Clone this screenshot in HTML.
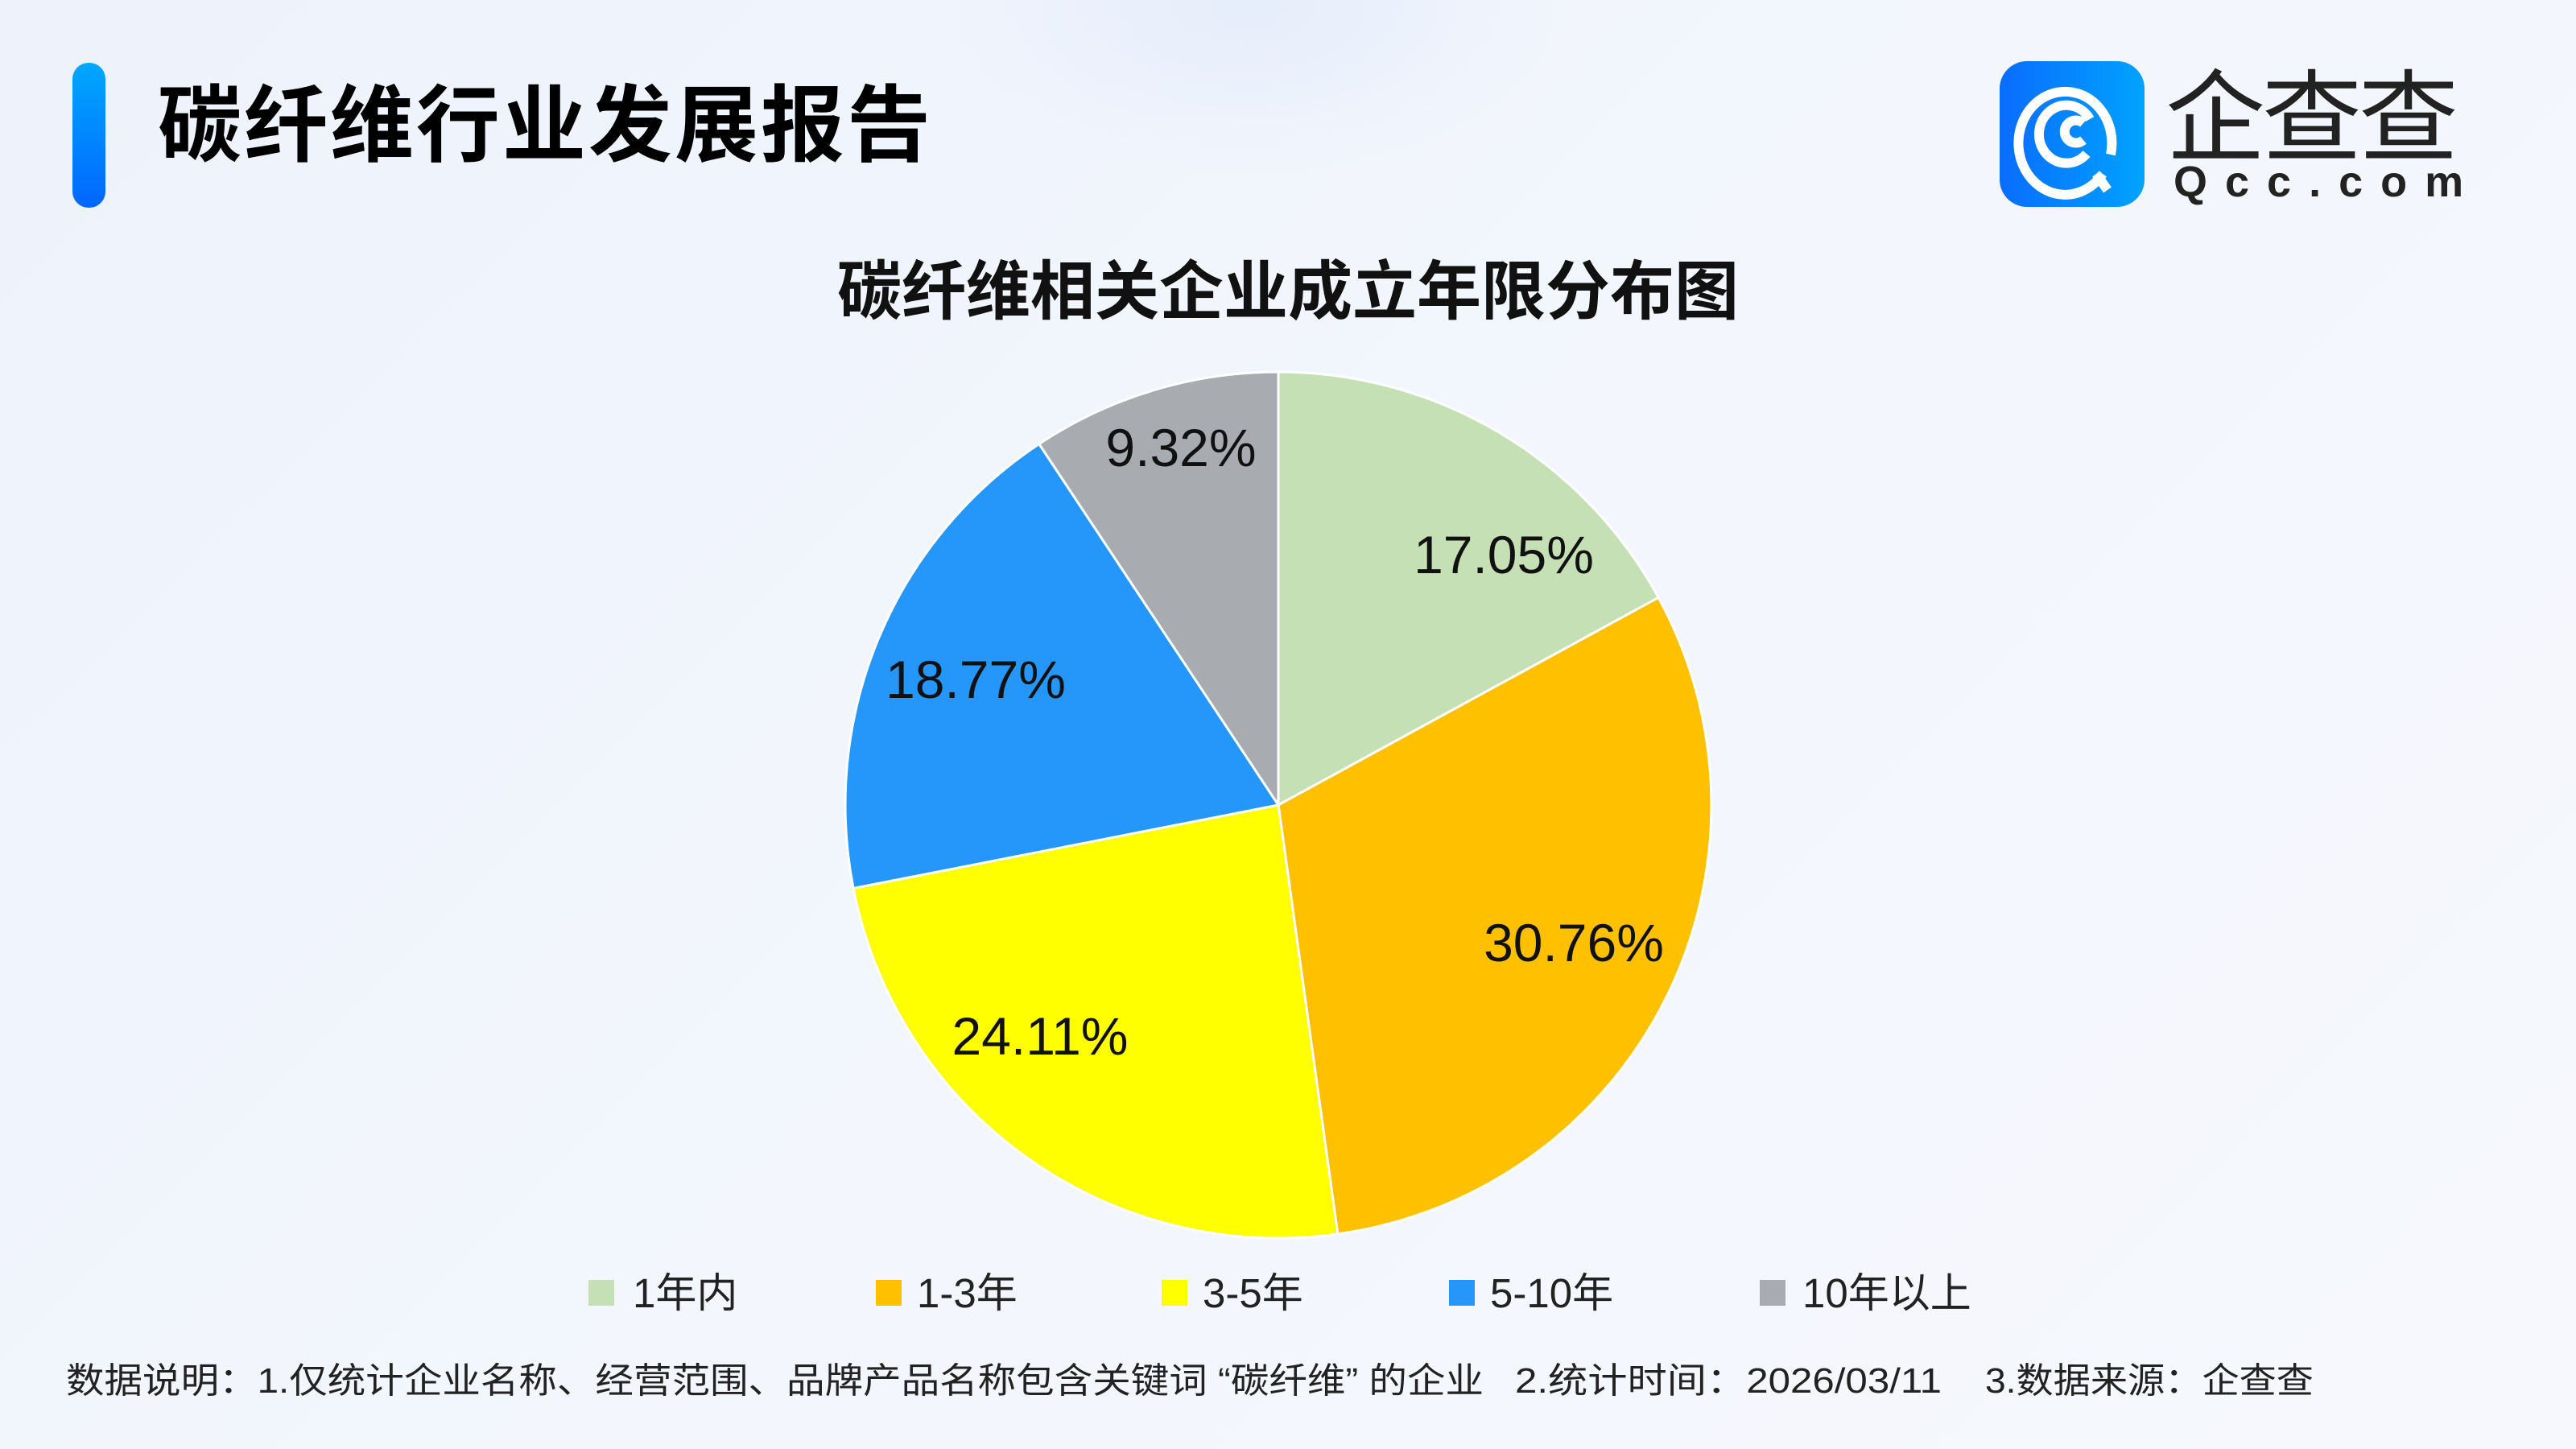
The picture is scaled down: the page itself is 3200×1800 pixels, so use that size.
<!DOCTYPE html>
<html><head><meta charset="utf-8"><style>
html,body{margin:0;padding:0}
body{width:3200px;height:1800px;position:relative;overflow:hidden;background:linear-gradient(135deg,#edf2fb 0%,#f3f6fd 50%,#f6f8fd 100%);font-family:"Liberation Sans","Noto Sans CJK SC",sans-serif;color:#111}
.abs{position:absolute;white-space:nowrap}
</style></head><body>
<div class="abs" style="left:1150px;top:-200px;width:800px;height:420px;border-radius:50%;background:radial-gradient(#e6eefb,rgba(237,242,251,0) 70%)"></div>
<div class="abs" style="left:90px;top:78px;width:41px;height:180px;border-radius:20px;background:linear-gradient(#00a8ff,#0066ff)"></div>
<div class="abs" style="left:196px;top:90px;font-size:104px;font-weight:bold;line-height:114px;font-family:'Noto Sans CJK SC',sans-serif;color:#000;letter-spacing:3px">碳纤维行业发展报告</div>
<div class="abs" style="left:2484px;top:76px;width:180px;height:181px;border-radius:34px;background:linear-gradient(90deg,#0a6cff,#00a3ff)">
<svg width="180" height="181" viewBox="0 0 180 181"><g fill="none" stroke="#fff" stroke-width="12" stroke-linecap="butt"><path d="M128 140 A58 64 0 1 1 138 116"/><path d="M108 115 A34 36 0 1 1 112 72"/><path d="M104 98 A14 14 0 1 1 104 77"/><path d="M120 140 L134 160"/></g></svg></div>
<div class="abs" style="left:2690px;top:66px;font-size:124px;line-height:140px;color:#222;font-family:'Noto Sans CJK SC',sans-serif;letter-spacing:-4px">企查查</div>
<div class="abs" style="left:2700px;top:196px;font-size:54px;line-height:60px;color:#222;font-weight:bold;letter-spacing:22px">Qcc.com</div>
<div class="abs" style="left:0;width:3200px;top:306px;text-align:center;font-size:80px;line-height:100px;font-weight:bold;font-family:'Noto Sans CJK SC',sans-serif">碳纤维相关企业成立年限分布图</div>
<svg class="abs" style="left:0;top:0" width="3200" height="1800">
<g stroke="#fff" stroke-width="3" stroke-linejoin="round">
<path d="M1588 1000 L1588 462 A538 538 0 0 1 2060.2 742.3 Z" fill="#c5e0b4"/>
<path d="M1588 1000 L2060.2 742.3 A538 538 0 0 1 1661.8 1532.9 Z" fill="#ffc000"/>
<path d="M1588 1000 L1661.8 1532.9 A538 538 0 0 1 1060.1 1103.5 Z" fill="#ffff00"/>
<path d="M1588 1000 L1060.1 1103.5 A538 538 0 0 1 1290.8 551.5 Z" fill="#2596fa"/>
<path d="M1588 1000 L1290.8 551.5 A538 538 0 0 1 1588 462 Z" fill="#a8acb1"/>
</g>
<g font-family="Liberation Sans, sans-serif" font-size="66" fill="#111" text-anchor="middle">
<text x="1868" y="712">17.05%</text>
<text x="1955" y="1194">30.76%</text>
<text x="1292" y="1310">24.11%</text>
<text x="1212" y="867">18.77%</text>
<text x="1467" y="579">9.32%</text>
</g>
<g font-family="Liberation Sans, Noto Sans CJK SC, sans-serif" font-size="51" fill="#222">
<rect x="731" y="1590" width="32" height="32" fill="#c5e0b4"/><text x="786" y="1624">1年内</text>
<rect x="1088" y="1590" width="32" height="32" fill="#ffc000"/><text x="1139" y="1624">1-3年</text>
<rect x="1443" y="1590" width="32" height="32" fill="#ffff00"/><text x="1494" y="1624">3-5年</text>
<rect x="1800" y="1590" width="32" height="32" fill="#2596fa"/><text x="1851" y="1624">5-10年</text>
<rect x="2186" y="1590" width="32" height="32" fill="#a8acb1"/><text x="2239" y="1624">10年以上</text>
</g>
<g font-family="Liberation Sans, Noto Sans CJK SC, sans-serif" font-size="44" fill="#222">
<text x="82" y="1730" textLength="1761" lengthAdjust="spacingAndGlyphs">数据说明：1.仅统计企业名称、经营范围、品牌产品名称包含关键词 “碳纤维” 的企业</text>
<text x="1882" y="1730" textLength="530" lengthAdjust="spacingAndGlyphs">2.统计时间：2026/03/11</text>
<text x="2466" y="1730" textLength="408" lengthAdjust="spacingAndGlyphs">3.数据来源：企查查</text>
</g>
</svg>
</body></html>
